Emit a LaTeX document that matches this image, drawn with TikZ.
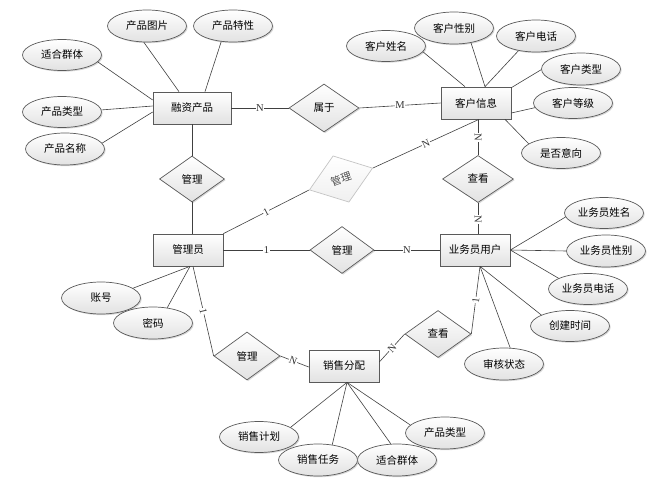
\documentclass[tikz,border=0pt]{standalone}
\usepackage{fontspec}
\setmainfont{Liberation Serif}
\newfontfamily\cjk{Noto Sans CJK SC}
\usetikzlibrary{shapes.geometric,shadows}
\definecolor{bordergray}{HTML}{5A5A5A}
\definecolor{fillgray}{HTML}{E2E2E2}
\definecolor{linegray}{HTML}{404040}
\definecolor{lightborder}{HTML}{C4C4C4}
\tikzset{
  base/.style={draw=bordergray, line width=0.7pt, inner sep=0pt,
    font=\cjk\fontsize{10.5}{12}\selectfont, top color=white, bottom color=fillgray,
    drop shadow={shadow xshift=1.2pt, shadow yshift=-1.2pt, fill=black!30, opacity=0.5}},
  entity/.style={base, rectangle, minimum width=70pt, minimum height=32pt},
  attr/.style={base, ellipse, minimum width=79pt, minimum height=32pt},
  rel/.style={base, diamond, minimum width=66pt, minimum height=47pt},
  faderel/.style={draw=lightborder, line width=0.7pt, inner sep=0pt, diamond,
    minimum width=67pt, minimum height=49pt, text=black!70,
    font=\cjk\fontsize{10.5}{12}\selectfont, top color=white, bottom color=black!6},
  conn/.style={draw=linegray, line width=0.6pt},
  lab/.style={fill=white, inner sep=0.6pt, font=\fontsize{10.5}{10}\selectfont, text=black!80}
}
\begin{document}
\begin{tikzpicture}[x=1pt,y=-1pt]
\useasboundingbox (0,0) rectangle (664,497);
% entities
\node[entity, minimum width=78pt] (rz) at (192,108) {融资产品};
\node[entity] (kh) at (476,103) {客户信息};
\node[entity] (gl) at (188,250) {管理员};
\node[entity] (yw) at (475,250) {业务员用户};
\node[entity] (xs) at (344,366) {销售分配};
% relationships
\node[rel, minimum width=70pt, minimum height=48pt] (sy) at (324,108) {属于};
\node[rel, minimum width=65pt, minimum height=46pt] (d1) at (192,179) {管理};
\node[faderel, rotate=19] (dg) at (341,179) {管理};
\node[rel, minimum width=64pt] (d2) at (342,250) {管理};
\node[rel, minimum width=71pt] (d3) at (478,179) {查看};
\node[rel, minimum height=48pt] (d4) at (247,356) {管理};
\node[rel] (d5) at (438,334) {查看};
% attributes
\node[attr] (p1) at (147,26) {产品图片};
\node[attr] (p2) at (233,26) {产品特性};
\node[attr, minimum height=31pt] (p3) at (62,55) {适合群体};
\node[attr, minimum height=31pt] (p4) at (62,112) {产品类型};
\node[attr] (p5) at (65,149) {产品名称};
\node[attr, minimum height=31pt] (k1) at (386,46) {客户姓名};
\node[attr] (k2) at (454,28) {客户性别};
\node[attr] (k3) at (536,36) {客户电话};
\node[attr] (k4) at (581,69) {客户类型};
\node[attr, minimum height=31pt] (k5) at (573,103) {客户等级};
\node[attr, minimum height=31pt] (k6) at (561,153) {是否意向};
\node[attr] (g1) at (101,298) {账号};
\node[attr] (g2) at (153,323) {密码};
\node[attr, minimum height=31pt] (y1) at (604,213) {业务员姓名};
\node[attr] (y2) at (606,251) {业务员性别};
\node[attr, minimum height=31pt] (y3) at (588,289) {业务员电话};
\node[attr, minimum height=31pt] (y4) at (570,326) {创建时间};
\node[attr] (y5) at (504,364) {审核状态};
\node[attr, minimum height=31pt] (x1) at (259,437) {销售计划};
\node[attr] (x2) at (318,460) {销售任务};
\node[attr] (x3) at (397,460) {适合群体};
\node[attr] (x4) at (445,433) {产品类型};
% attribute connectors
\draw[conn] (p1.-101) -- ([xshift=-13pt]rz.north);
\draw[conn] (p2.-127) -- ([xshift=13pt]rz.north);
\draw[conn] (p3.-11) -- ([yshift=8pt]rz.west);
\draw[conn] (p4.3) -- ([yshift=2pt]rz.west);
\draw[conn] (p5.9) -- ([yshift=-4pt]rz.west);
\draw[conn] (k1.-9) -- ([xshift=-11pt]kh.north);
\draw[conn] (k2.-41) -- ([xshift=9pt]kh.north);
\draw[conn] (k3.-140) -- ([xshift=9pt]kh.north);
\draw[conn] (k4.181) -- ([yshift=-1pt]kh.north east);
\draw[conn] (k5.187) -- ([yshift=-10pt]kh.east);
\draw[conn] (k6.164) -- ([xshift=29pt]kh.south);
\draw[conn] (g1.17) -- ([xshift=2pt]gl.south);
\draw[conn] (g2.47) -- ([xshift=2pt]gl.south);
\draw[conn] (y1.186) -- (yw.east);
\draw[conn] (y2.180) -- (yw.east);
\draw[conn] (y3.160) -- (yw.east);
\draw[conn] (y4.159) -- ([xshift=5pt]yw.south);
\draw[conn] (y5.69) -- ([xshift=5pt]yw.south);
\draw[conn] (x1.17) -- ([xshift=3pt]xs.south);
\draw[conn] (x2.47) -- ([xshift=3pt]xs.south);
\draw[conn] (x3.111) -- ([xshift=3pt]xs.south);
\draw[conn] (x4.167) -- ([xshift=3pt]xs.south);
% relationship connectors
\draw[conn] (rz.east) -- node[lab]{N} (sy.west);
\draw[conn] (sy.east) -- node[lab]{M} (kh.west);
\draw[conn] (rz.south) -- (d1.north);
\draw[conn] (d1.south) -- (d1.south |- gl.north);
\draw[conn] (gl.north east) -- node[lab, sloped]{1} (dg.west);
\draw[conn] (dg.east) -- node[lab, sloped]{N} ([xshift=3pt]kh.south);
\draw[conn] (gl.east) -- node[lab]{1} (d2.west);
\draw[conn] (d2.east) -- node[lab]{N} (yw.west);
\draw[conn] (d3.north |- kh.south) -- node[lab, sloped]{N} (d3.north);
\draw[conn] (d3.south) -- node[lab, sloped, pos=0.55]{N} (d3.south |- yw.north);
\draw[conn] ([xshift=5pt]gl.south) -- node[lab, sloped]{1} (d4.west);
\draw[conn] (d4.east) -- node[lab, sloped, pos=0.45]{N} ([yshift=-1pt]xs.west);
\draw[conn] ([yshift=4pt]xs.east) -- node[lab, sloped]{N} (d5.west);
\draw[conn] (d5.east) -- node[lab, sloped]{1} ([xshift=5pt]yw.south);
\end{tikzpicture}
\end{document}
